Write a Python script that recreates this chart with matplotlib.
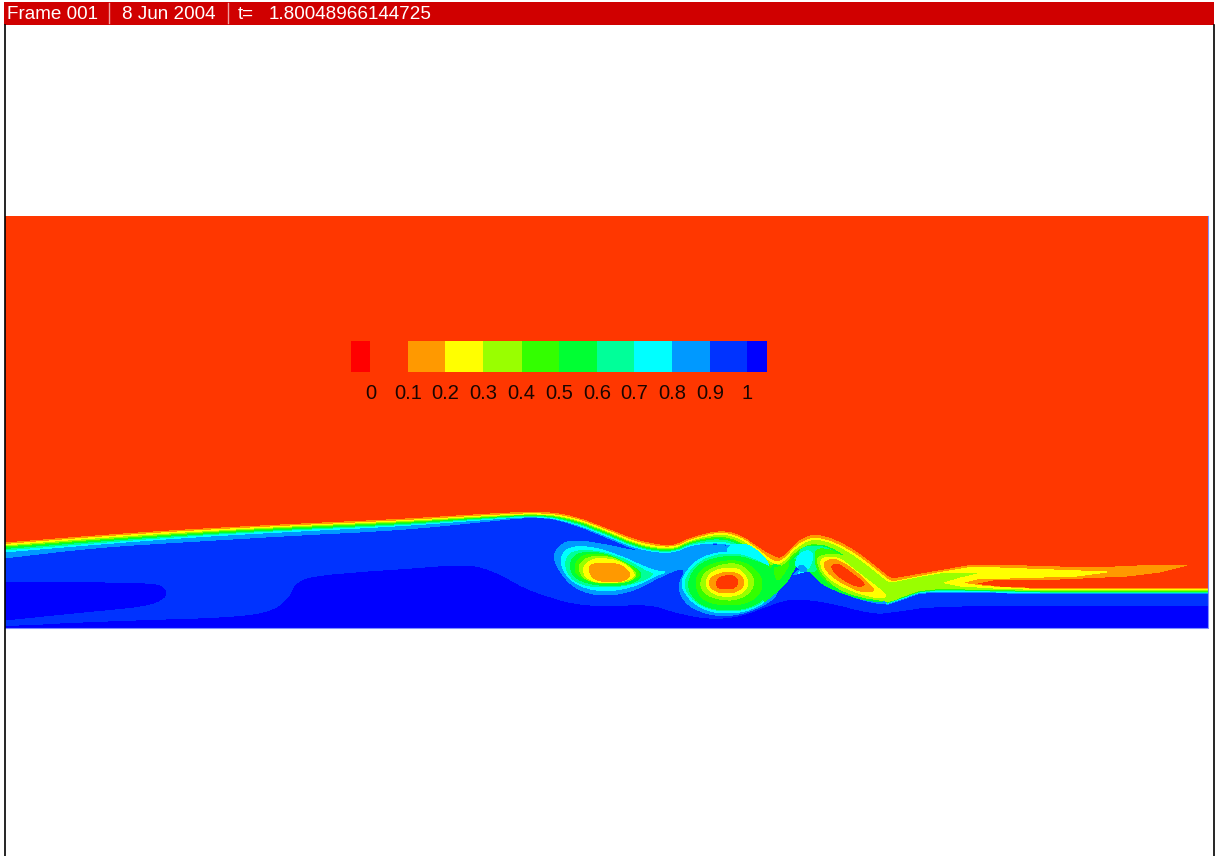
import matplotlib
matplotlib.use("Agg")
import numpy as np
import matplotlib.pyplot as plt

plt.rcParams['font.family'] = ['Liberation Sans', 'DejaVu Sans']

# contour colours, volume fraction bands
C_RED = '#FF0000'
C_00 = '#FF3700'
C_01 = '#FF9900'
C_02 = '#FFFF00'
C_03 = '#99FF00'
C_04 = '#33FF00'
C_05 = '#00FF33'
C_06 = '#00FF99'
C_07 = '#00FFFF'
C_08 = '#0099FF'
C_09 = '#0033FF'
C_10 = '#0000FF'

frame_text = "Frame 001"
date_text = "8 Jun 2004"
time_label = "t="
time_value = "1.80048966144725"

legend_labels = ['0', '0.1', '0.2', '0.3', '0.4', '0.5', '0.6', '0.7', '0.8', '0.9', '1']
legend_label_x = [371, 408, 445, 483, 521, 559, 597, 634, 672, 710, 747]
legend_edges = [351, 370, 408, 445, 483, 522, 559, 597, 634, 672, 710, 747, 767]
legend_colors = [C_RED, C_00, C_01, C_02, C_03, C_04, C_05, C_06, C_07, C_08, C_09, C_10]

# interface stations, left to right
station_x = [5, 100, 200, 300, 400, 480, 540, 573, 607, 640, 673, 690, 720, 740, 757, 773, 783, 797, 813, 833, 857, 887]
line_01 = [543, 535.5, 529, 524, 519.5, 514.5, 511.5, 516, 529, 542, 547, 538, 530.5, 535, 547, 557, 559, 542, 534, 539, 552, 576]
line_02 = [544.5, 537, 530.5, 525.5, 521, 516, 513, 517.5, 530.5, 544, 548.5, 540, 532, 537, 549, 562, 561, 545, 537, 542, 555, 579]
line_03 = [546, 538.5, 532, 526.5, 522, 517, 514, 519, 532, 546, 550, 541, 534, 539, 552, 565, 564, 548, 539, 544, 558, 582]
line_04 = [547, 540, 533, 527.5, 523, 518, 514.5, 520, 533, 547, 551, 542, 536, 542, 555, 568, 567, 551, 543, 550, 575, 603]
line_05 = [548, 541, 534, 528.5, 524, 518.5, 515, 521, 534, 548, 552, 543, 537.5, 543, 558, 572, 570, 553, 546, 553, 578, 603.5]
line_06 = [549.5, 542, 535, 529.5, 525, 519, 515.5, 522, 535, 549, 552.5, 544, 538.5, 545, 561, 575, 573, 555, 549, 556, 580, 604]
line_07 = [551, 543.5, 536, 530.5, 526, 520, 516, 523, 536, 550, 553.5, 545, 541, 547, 563, 578, 576, 558, 552, 560, 582, 604.5]
line_08 = [553, 545, 537.5, 532, 527, 521, 516.5, 524, 537.5, 551, 554.5, 546, 543, 549, 565, 580, 578, 560, 555, 563, 585, 605]
line_09 = [559, 548, 542, 536, 531, 523, 517, 525, 539, 553, 556, 547, 544, 550, 566, 581, 579, 561, 556, 564, 586, 606]

# wake end of each interface line
tail_01 = [(893, 579), (927, 573), (973, 565), (1027, 566), (1093, 568), (1160, 565), (1187, 565), (1160, 572), (1127, 576), (1060, 579), (993, 580), (973, 584), (1000, 587), (1037, 588.5), (1208, 588.5)]
tail_02 = [(893, 582), (917, 577), (943, 572), (973, 567), (1027, 569), (1107, 572), (1077, 576), (1010, 578), (977, 579), (960, 583), (985, 586.5), (1037, 589.5), (1208, 589.5)]
tail_03 = [(893, 583), (917, 578), (940, 574), (977, 573), (960, 577), (940, 583), (960, 587), (993, 589), (1037, 590.5), (1208, 590.5)]
tail_04 = [(920, 591.5), (940, 589.5), (1040, 591.5), (1208, 591.5)]
tail_05 = [(920, 592), (940, 590), (1040, 592), (1208, 592)]
tail_06 = [(920, 592.5), (940, 590.5), (1040, 592.5), (1208, 592.5)]
tail_07 = [(920, 593), (940, 591), (1040, 593), (1208, 593)]
tail_08 = [(920, 593.5), (940, 592), (1040, 593.8), (1208, 593.8)]
tail_09 = [(920, 594.5), (940, 593), (1040, 594.5), (1208, 594.5)]

# lowest fluid, value 1
core_left = [(5, 583), (40, 582), (107, 583), (157, 584), (166, 590), (165, 598), (147, 606), (83, 612), (5, 620)]
core_right = [(30, 628), (33, 625), (133, 621), (233, 618), (273, 612), (290, 598), (295, 585), (310, 577), (367, 572), (400, 570),
              (450, 566), (475, 566), (500, 575), (520, 587), (540, 595), (573, 605), (607, 607), (650, 605), (673, 613), (707, 620),
              (740, 618), (773, 605), (793, 599), (827, 603), (873, 615), (893, 613), (940, 606), (1208, 606)]
core_sliver = [(5, 627), (33, 625), (30, 628), (5, 628)]

# rolled up part, outermost first
wake_08 = [(630, 550), (653, 553), (673, 555), (690, 547), (720, 544), (745, 552), (770, 575), (780, 592), (767, 604), (740, 615), (713, 616),
           (687, 606), (677, 587), (688, 565), (657, 578), (640, 588), (617, 595), (593, 595), (573, 587), (560, 572), (553, 557), (558, 547),
           (568, 541), (583, 541), (607, 545)]
v3_08 = [(790, 578), (800, 568), (815, 572), (825, 585), (847, 595), (873, 603), (890, 604), (880, 590), (820, 560)]
v1_07 = [(560, 560), (565, 550), (577, 546), (597, 548), (623, 557), (640, 565), (655, 571), (667, 572), (657, 575), (640, 584), (620, 590),
         (597, 591), (577, 585), (565, 574)]
v2_band_07 = [(727, 547), (740, 543), (753, 547), (767, 560), (770, 570), (763, 565), (747, 555), (740, 552), (727, 555)]
v2_07 = [(680, 585), (687, 570), (700, 558), (720, 552), (740, 552), (760, 560), (772, 570), (772, 592), (762, 605), (740, 613), (713, 613), (692, 603)]
v3_07 = [(795, 575), (805, 568), (820, 578), (847, 592), (873, 600), (892, 601), (880, 590), (825, 565)]
v1_06 = [(565, 562), (570, 553), (582, 550), (603, 552), (627, 560), (647, 572), (655, 574), (640, 582), (617, 587), (593, 587), (575, 582), (567, 572)]
v2_06 = [(683, 585), (690, 571), (702, 560), (720, 554), (740, 554), (758, 561), (772, 568), (771, 591), (761, 604), (740, 611), (715, 611), (694, 602)]
v1_05 = [(570, 563), (575, 555), (585, 552), (603, 553), (625, 562), (643, 573), (637, 582), (617, 586), (595, 585), (578, 580), (571, 572)]
v2_05 = [(687, 587), (692, 572), (703, 562), (720, 557), (740, 556), (757, 562), (772, 567), (770, 590), (760, 603), (740, 610), (717, 610), (697, 603)]
neck_05 = [(772, 563), (778, 566), (785, 566), (793, 558), (798, 562), (793, 571), (787, 582), (773, 595), (760, 605)]
v3_05 = [(803, 552), (813, 544), (830, 547), (850, 560), (870, 577), (887, 593), (892, 600), (873, 602), (847, 595), (823, 585), (810, 572), (807, 563)]
v3_06 = [(797, 553), (806, 546), (822, 546), (835, 552), (822, 562), (815, 572), (806, 572)]
spot_07 = [(794, 567), (798, 555), (807, 550), (813, 553), (812, 562), (808, 570)]
spot_08 = [(798, 566), (804, 565), (808, 572), (800, 572)]
v1_04 = [(575, 565), (580, 557), (590, 554), (607, 555), (627, 563), (642, 574), (633, 580), (617, 584), (595, 583), (582, 578), (575, 572)]
v2_04 = [(695, 583), (700, 570), (717, 562), (737, 560), (753, 567), (763, 580), (760, 595), (743, 605), (717, 605), (700, 598)]
neck_04 = [(773, 567), (782, 567), (790, 561), (787, 569), (777, 583)]
v3_04 = [(815, 548), (833, 550), (853, 563), (873, 580), (890, 596), (873, 600), (847, 592), (825, 582), (815, 565)]
v1_03 = [(578, 568), (583, 560), (593, 556), (612, 557), (628, 565), (638, 575), (628, 582), (613, 583), (597, 583), (583, 578)]
v2_03 = [(700, 583), (705, 572), (720, 565), (737, 563), (750, 572), (755, 583), (748, 595), (732, 601), (713, 598), (703, 592)]
v3_03 = [(817, 556), (840, 553), (860, 566), (885, 585), (917, 578), (940, 574), (940, 583), (920, 590), (905, 595), (890, 602), (880, 600),
         (860, 597), (840, 590), (825, 578), (818, 566)]
v1_02 = [(583, 568), (588, 562), (597, 558), (617, 560), (630, 568), (636, 576), (625, 581), (610, 583), (595, 582), (585, 577)]
v2_02 = [(705, 583), (710, 573), (723, 568), (738, 568), (747, 577), (748, 587), (740, 595), (723, 597), (710, 592)]
v3_02 = [(820, 560), (827, 557), (840, 558), (857, 572), (877, 587), (888, 597), (877, 598), (857, 593), (833, 582), (822, 570)]
v1_01 = [(588, 568), (593, 564), (600, 563), (620, 564), (628, 571), (631, 576), (622, 582), (603, 582), (592, 578)]
v2_01 = [(708, 583), (713, 576), (725, 572), (738, 573), (744, 580), (743, 588), (733, 593), (720, 593), (712, 589)]
v3_01 = [(823, 563), (833, 558), (847, 565), (863, 578), (877, 592), (860, 592), (840, 582), (827, 572)]
v2_00 = [(716, 582), (720, 577), (730, 575), (737, 578), (738, 585), (732, 589), (722, 589), (717, 587)]
v3_00 = [(830, 567), (837, 563), (850, 572), (867, 585), (857, 587), (840, 578)]


def cut_corners(pts, closed=True, rounds=2):
    # Chaikin, just to take the edge off the hand read outlines
    pts = np.array(pts, dtype=float)
    for _ in range(rounds):
        if closed:
            nxt = np.roll(pts, -1, axis=0)
            a = 0.75 * pts + 0.25 * nxt
            b = 0.25 * pts + 0.75 * nxt
            pts = np.column_stack((a, b)).reshape(-1, 2)
        else:
            a = 0.75 * pts[:-1] + 0.25 * pts[1:]
            b = 0.25 * pts[:-1] + 0.75 * pts[1:]
            pts = np.vstack((pts[:1], np.column_stack((a, b)).reshape(-1, 2), pts[-1:]))
    return pts


def blob(ax, pts, color):
    p = cut_corners(pts)
    ax.fill(p[:, 0], p[:, 1], color=color, lw=0, antialiased=False)


def level(ax, ys, tail, color):
    top = cut_corners(list(zip(station_x, ys)), closed=False)
    p = np.vstack((top, np.array(tail, dtype=float), [(1208, 628), (5, 628)]))
    ax.fill(p[:, 0], p[:, 1], color=color, lw=0, antialiased=False)


fig = plt.figure(figsize=(12.15, 8.56), dpi=100, facecolor='white')
ax = fig.add_axes([0, 0, 1, 1])
ax.set_xlim(0, 1215)
ax.set_ylim(856, 0)
ax.axis('off')

# domain
ax.fill([5, 1208, 1208, 5], [216, 216, 628, 628], color=C_00, lw=0)

# interface bands
level(ax, line_01, tail_01, C_01)
level(ax, line_02, tail_02, C_02)
level(ax, line_03, tail_03, C_03)
level(ax, line_04, tail_04, C_04)
level(ax, line_05, tail_05, C_05)
level(ax, line_06, tail_06, C_06)
level(ax, line_07, tail_07, C_07)
level(ax, line_08, tail_08, C_08)
level(ax, line_09, tail_09, C_09)

p = cut_corners(core_left, closed=False)
ax.fill(p[:, 0], p[:, 1], color=C_10, lw=0, antialiased=False)
p = np.vstack((cut_corners(core_right, closed=False), [(1208, 628)]))
ax.fill(p[:, 0], p[:, 1], color=C_10, lw=0, antialiased=False)
ax.fill([q[0] for q in core_sliver], [q[1] for q in core_sliver], color=C_10, lw=0, antialiased=False)

# vortices, painted from the outside in
for pts, col in [(wake_08, C_08), (v3_08, C_08),
                 (v1_07, C_07), (v2_band_07, C_07), (v2_07, C_07), (v3_07, C_07),
                 (v1_06, C_06), (v2_06, C_06),
                 (v1_05, C_05), (v2_05, C_05), (neck_05, C_05), (v3_05, C_05),
                 (v3_06, C_06), (spot_07, C_07), (spot_08, C_08),
                 (v1_04, C_04), (v2_04, C_04), (neck_04, C_04), (v3_04, C_04),
                 (v1_03, C_03), (v2_03, C_03), (v3_03, C_03),
                 (v1_02, C_02), (v2_02, C_02), (v3_02, C_02),
                 (v1_01, C_01), (v2_01, C_01), (v3_01, C_01),
                 (v2_00, C_00), (v3_00, C_00)]:
    blob(ax, pts, col)

# pale edge of the domain
ax.plot([5, 1208, 1208], [628, 628, 216], color='#7f8fff', lw=0.8)

# contour legend
for i, col in enumerate(legend_colors):
    ax.fill([legend_edges[i], legend_edges[i + 1], legend_edges[i + 1], legend_edges[i]],
            [341, 341, 372, 372], color=col, lw=0)
for x, lab in zip(legend_label_x, legend_labels):
    ax.text(x, 393, lab, ha='center', va='center', fontsize=14.5, color='#1a0500')

# frame lines
ax.plot([4.5, 4.5], [25, 856], color='black', lw=1.2)
ax.plot([1213.5, 1213.5], [25, 856], color='black', lw=1.2)

# header bar
ax.fill([4, 1214, 1214, 4], [2, 2, 25, 25], color='#D00000', lw=0)
ax.plot([108.5, 108.5], [3, 23], color='#F0A0A0', lw=1)
ax.plot([227.5, 227.5], [3, 23], color='#F0A0A0', lw=1)
ax.text(7, 14.5, frame_text, ha='left', va='center', fontsize=13.6, color='white')
ax.text(122, 14.5, date_text, ha='left', va='center', fontsize=13.6, color='white')
ax.text(238, 14.5, time_label, ha='left', va='center', fontsize=13.6, color='white')
ax.text(269, 14.5, time_value, ha='left', va='center', fontsize=13.6, color='white')

fig.savefig('out.png', dpi=100, facecolor='white')
